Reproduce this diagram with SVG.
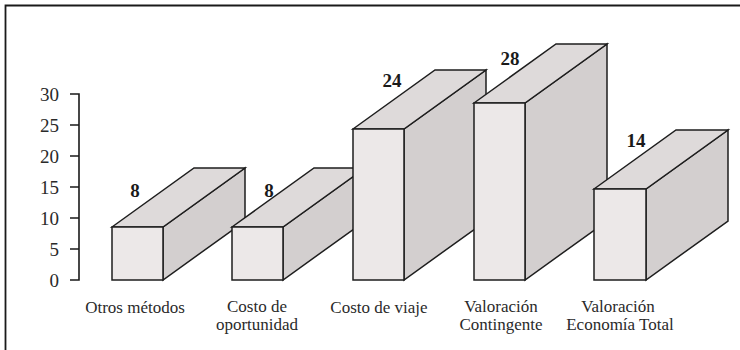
<svg xmlns="http://www.w3.org/2000/svg" width="740" height="350" viewBox="0 0 740 350">
<style>
.frame{fill:none;stroke:#1a1a1a;stroke-width:1.8}
.ax{fill:none;stroke:#1a1a1a;stroke-width:1.6}
.front{fill:#ece8e8;stroke:#1e1e1e;stroke-width:1.5;stroke-linejoin:miter}
.top{fill:#dedada;stroke:#1e1e1e;stroke-width:1.5}
.side{fill:#d3cfcf;stroke:#1e1e1e;stroke-width:1.5}
.tick{font-family:"Liberation Serif","Times New Roman",serif;font-size:19px;fill:#2a2a2a;text-anchor:end}
.val{font-family:"Liberation Serif","Times New Roman",serif;font-size:19px;font-weight:bold;fill:#1a1a1a;text-anchor:middle}
.cat{font-family:"Liberation Serif","Times New Roman",serif;font-size:17px;fill:#2a2a2a;text-anchor:middle}
</style>
<rect width="740" height="350" fill="#ffffff"/>
<path class="frame" d="M5.5,352 V5.5 H742"/>
<g id="axis">
<path class="ax" d="M70,94 H79 V280 H70 M70,125 H79 M70,156 H79 M70,187 H79 M70,218 H79 M70,249 H79"/>
<text class="tick" x="59" y="100.5">30</text>
<text class="tick" x="59" y="131.5">25</text>
<text class="tick" x="59" y="162.5">20</text>
<text class="tick" x="59" y="193.5">15</text>
<text class="tick" x="59" y="224.5">10</text>
<text class="tick" x="59" y="255.5">5</text>
<text class="tick" x="59" y="286.5">0</text>
</g>
<g id="bar-otros">
<polygon class="side" points="163,227 245,168 245,221 163,280"/>
<polygon class="top" points="112,227 194,168 245,168 163,227"/>
<rect class="front" x="112" y="227" width="51" height="53"/>
<text class="val" x="135" y="197">8</text>
</g>
<g id="bar-costo-oportunidad">
<polygon class="side" points="283,227 365,168 365,221 283,280"/>
<polygon class="top" points="232,227 314,168 365,168 283,227"/>
<rect class="front" x="232" y="227" width="51" height="53"/>
<text class="val" x="269" y="197">8</text>
</g>
<g id="bar-costo-viaje">
<polygon class="side" points="404,129 486,70 486,221 404,280"/>
<polygon class="top" points="353,129 435,70 486,70 404,129"/>
<rect class="front" x="353" y="129" width="51" height="151"/>
<text class="val" x="392" y="87">24</text>
</g>
<g id="bar-valoracion-contingente">
<polygon class="side" points="525,103 607,44 607,221 525,280"/>
<polygon class="top" points="474,103 556,44 607,44 525,103"/>
<rect class="front" x="474" y="103" width="51" height="177"/>
<text class="val" x="510" y="65">28</text>
</g>
<g id="bar-valoracion-economia">
<polygon class="side" points="646,189 728,130 728,221 646,280"/>
<polygon class="top" points="594,189 676,130 728,130 646,189"/>
<rect class="front" x="594" y="189" width="52" height="91"/>
<text class="val" x="636" y="147">14</text>
</g>
<g id="categories">
<text class="cat" x="135" y="313">Otros métodos</text>
<text class="cat" x="257" y="312">Costo de</text>
<text class="cat" x="257" y="330">oportunidad</text>
<text class="cat" x="379" y="313">Costo de viaje</text>
<text class="cat" x="501" y="312">Valoración</text>
<text class="cat" x="501" y="330">Contingente</text>
<text class="cat" x="618" y="312">Valoración</text>
<text class="cat" x="620" y="330">Economía Total</text>
</g>
</svg>
